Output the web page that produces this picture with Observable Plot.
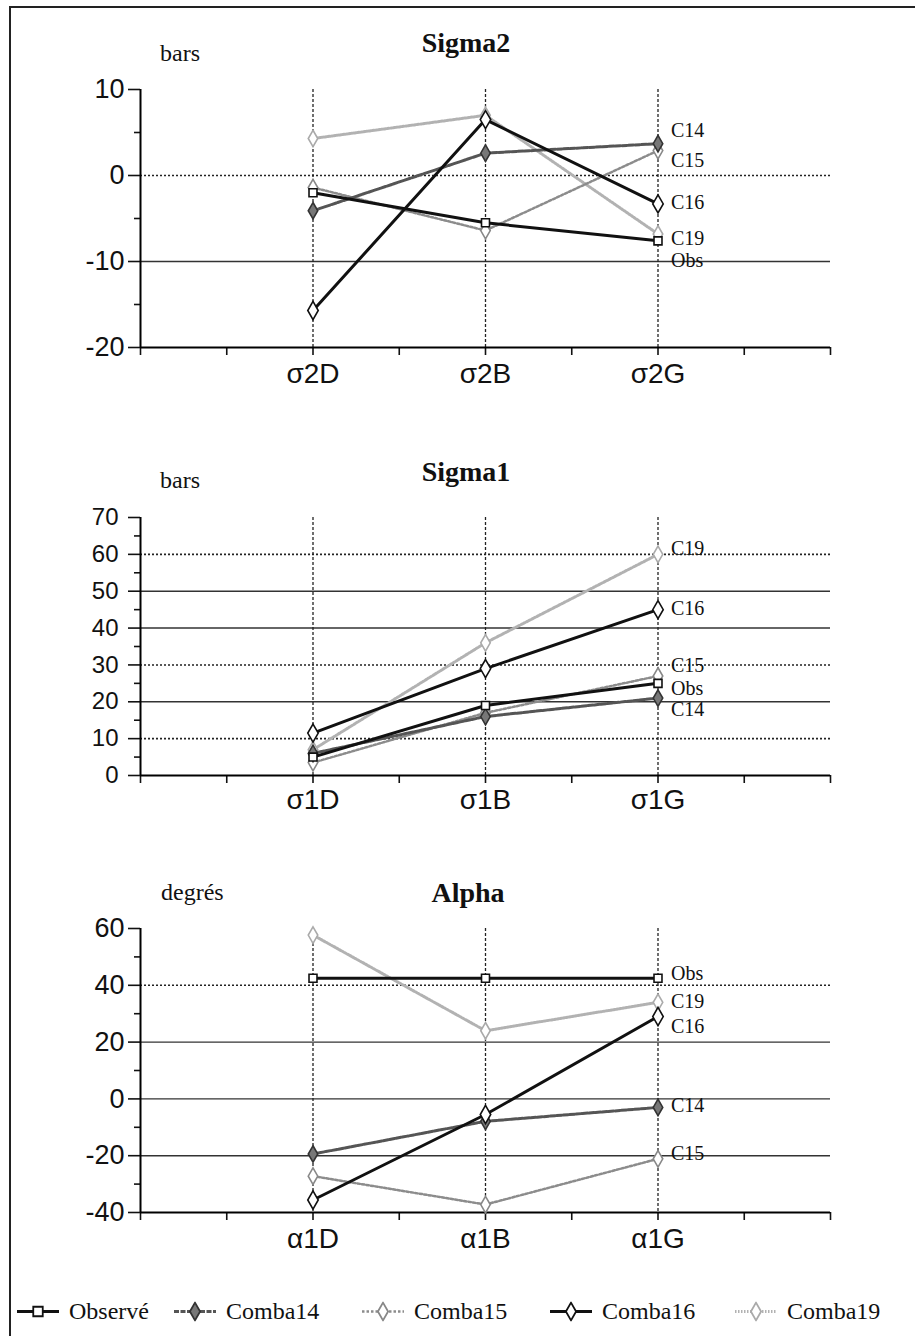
<!DOCTYPE html>
<html>
<head>
<meta charset="utf-8">
<script src="https://cdn.jsdelivr.net/npm/d3@7"></script>
<script src="https://cdn.jsdelivr.net/npm/@observablehq/plot@0.6"></script>
<style>
  html, body { margin: 0; padding: 0; background: #fff; }
  #page { position: relative; width: 915px; height: 1336px; overflow: hidden; background: #fff; }
  .abs { position: absolute; white-space: nowrap; color: #111; }
  .serif { font-family: "Liberation Serif", "Times New Roman", serif; }
  .title { font-weight: bold; font-size: 28px; transform: translate(-50%, -50%); }
  .unit { font-size: 24px; transform: translateY(-50%); }
  .chart { position: absolute; left: 0; }
  .legend-item { position: absolute; display: flex; align-items: center; font-family: "Liberation Serif", serif; font-size: 24px; color: #111; transform: translateY(-50%); }
</style>
</head>
<body>
<div id="page"></div>
<script>
// ---------- DATA ----------
const seriesNames = ["Observé", "Comba14", "Comba15", "Comba16", "Comba19"];
const seriesShort = ["Obs", "C14", "C15", "C16", "C19"];

const sigma2Categories = ["σ2D", "σ2B", "σ2G"];
const sigma1Categories = ["σ1D", "σ1B", "σ1G"];
const alphaCategories  = ["α1D", "α1B", "α1G"];

// values in seriesNames order, each [D, B, G]
const sigma2Values = [
  [-2.0, -5.5, -7.6],
  [-4.1, 2.6, 3.7],
  [-1.4, -6.4, 2.9],
  [-15.7, 6.5, -3.3],
  [4.3, 7.0, -6.8]
];
const sigma1Values = [
  [5, 19, 25],
  [6, 16, 21],
  [3.5, 17, 27],
  [11.5, 29, 45],
  [7, 36, 60]
];
const alphaValues = [
  [42.5, 42.5, 42.5],
  [-19.4, -7.9, -3],
  [-27.2, -37.2, -21.1],
  [-35.6, -5.5, 29],
  [57.7, 24, 34]
];

// value at which each end label sits (seriesShort order)
const sigma2LabelAt = [-9.9, 5.2, 1.7, -3.1, -7.3];
const sigma1LabelAt = [23.6, 17.9, 29.8, 45.3, 61.6];
const alphaLabelAt  = [44.2, -2.3, -19.2, 25.6, 34.2];

const sigma2Ticks = [-20, -10, 0, 10];
const sigma2Minor = [-15, -5, 5];
const sigma1Ticks = [0, 10, 20, 30, 40, 50, 60, 70];
const sigma1Minor = [5, 15, 25, 35, 45, 55, 65];
const alphaTicks  = [-40, -20, 0, 20, 40, 60];
const alphaMinor  = [-30, -10, 10, 30, 50];

const sigma2GridDotted = [0];
const sigma2GridSolid  = [-10];
const sigma1GridDotted = [10, 30, 60];
const sigma1GridSolid  = [20, 40, 50];
const alphaGridDotted  = [40];
const alphaGridSolid   = [20, 0, -20];

// ---------- STYLES ----------
const SANS = "Liberation Sans, Arial, sans-serif";
const SERIF = "Liberation Serif, Times New Roman, serif";
const styles = {
  "Observé": {stroke: "#111", width: 3, dash: null, symbol: "square", fill: "#fff", mstroke: "#111", r: 4.5},
  "Comba14": {stroke: "#555", width: 3, dash: "5,1.5", symbol: "diamond", fill: "#777", mstroke: "#333", r: 5},
  "Comba15": {stroke: "#8c8c8c", width: 2.5, dash: "2.5,2", symbol: "diamond", fill: "#fff", mstroke: "#888", r: 5},
  "Comba16": {stroke: "#111", width: 3, dash: null, symbol: "diamond", fill: "#fff", mstroke: "#111", r: 5.5},
  "Comba19": {stroke: "#b2b2b2", width: 3, dash: "1.5,1.5", symbol: "diamond", fill: "#fff", mstroke: "#aaa", r: 5}
};
const drawOrder = ["Comba19", "Comba15", "Comba14", "Observé", "Comba16"];

const page = document.getElementById("page");

function addText(cls, text, left, top) {
  const d = document.createElement("div");
  d.className = "abs serif " + cls;
  d.textContent = text;
  d.style.left = left + "px";
  d.style.top = top + "px";
  page.appendChild(d);
}

function makeChart(cfg) {
  const rows = [];
  cfg.values.forEach((vals, si) => vals.forEach((v, ci) => rows.push({series: seriesNames[si], x: 2 + 2 * ci, y: v})));
  const labels = seriesShort.map((s, i) => ({text: s, y: cfg.labelAt[i]}));
  const marks = [
    Plot.ruleY(cfg.gridSolid, {stroke: "#333", strokeWidth: 1.4}),
    Plot.ruleY(cfg.gridDotted, {stroke: "#222", strokeWidth: 1.6, strokeDasharray: "2,2"}),
    Plot.ruleX([2, 4, 6], {stroke: "#222", strokeWidth: 1.3, strokeDasharray: "3,2"}),
    Plot.axisX({ticks: d3.range(0, 9), tickSize: 8, tickFormat: () => "", strokeWidth: 1.6, label: null}),
    Plot.axisX({ticks: [2, 4, 6], tickSize: 0, tickPadding: cfg.xPad, tickFormat: d => cfg.cats[d / 2 - 1],
      fontSize: 28, fontFamily: SANS, label: null}),
    Plot.axisY({ticks: cfg.ticks, tickSize: 12, tickPadding: cfg.yPad, tickFormat: d => String(d),
      fontSize: cfg.yFont, fontFamily: SANS, strokeWidth: 1.6, label: null}),
    Plot.axisY({ticks: cfg.minor, tickSize: 6, tickFormat: () => "", strokeWidth: 1.6, label: null}),
    Plot.ruleX([0], {stroke: "#000", strokeWidth: 2}),
    Plot.ruleY([cfg.yDomain[0]], {stroke: "#000", strokeWidth: 2})
  ];
  for (const name of drawOrder) {
    const st = styles[name];
    const data = rows.filter(r => r.series === name);
    marks.push(Plot.line(data, {x: "x", y: "y", stroke: st.stroke, strokeWidth: st.width,
      strokeDasharray: st.dash || undefined}));
    marks.push(Plot.dot(data, {x: "x", y: "y", symbol: st.symbol, r: st.r, fill: st.fill,
      stroke: st.mstroke, strokeWidth: 1.6}));
  }
  marks.push(Plot.text(labels, {x: 6, y: "y", text: "text", dx: 13, textAnchor: "start",
    fontFamily: SERIF, fontSize: 20, fill: "#111"}));
  const svg = Plot.plot({
    width: 915,
    height: cfg.height,
    marginTop: cfg.marginTop,
    marginBottom: cfg.marginBottom,
    marginLeft: 140,
    marginRight: 85,
    x: {domain: [0, 8], axis: null},
    y: {domain: cfg.yDomain, axis: null},
    style: {background: "transparent", overflow: "visible", color: "#111"},
    marks
  });
  svg.classList.add("chart");
  svg.style.top = cfg.top + "px";
  page.appendChild(svg);
}

makeChart({cats: sigma2Categories, values: sigma2Values, labelAt: sigma2LabelAt, yDomain: [-20, 10],
  ticks: sigma2Ticks, minor: sigma2Minor, gridDotted: sigma2GridDotted, gridSolid: sigma2GridSolid,
  top: 0, marginTop: 89, marginBottom: 60, height: 407, yFont: 27, yPad: 4, xPad: 16});
makeChart({cats: sigma1Categories, values: sigma1Values, labelAt: sigma1LabelAt, yDomain: [0, 70],
  ticks: sigma1Ticks, minor: sigma1Minor, gridDotted: sigma1GridDotted, gridSolid: sigma1GridSolid,
  top: 417, marginTop: 100, marginBottom: 60, height: 418, yFont: 24, yPad: 10, xPad: 14});
makeChart({cats: alphaCategories, values: alphaValues, labelAt: alphaLabelAt, yDomain: [-40, 60],
  ticks: alphaTicks, minor: alphaMinor, gridDotted: alphaGridDotted, gridSolid: alphaGridSolid,
  top: 878, marginTop: 50, marginBottom: 60, height: 394, yFont: 27, yPad: 4, xPad: 16});

// titles & units
addText("title", "Sigma2", 466, 43);
addText("unit", "bars", 160, 53);
addText("title", "Sigma1", 466, 472);
addText("unit", "bars", 160, 480);
addText("title", "Alpha", 468, 893);
addText("unit", "degrés", 161, 892);

// frame
const frame = document.createElement("div");
frame.style.cssText = "position:absolute;left:9px;top:6px;width:930px;height:1400px;border-left:2px solid #222;border-top:2px solid #222;";
page.appendChild(frame);

// legend
const legendLefts = [15, 172, 360, 548, 733];
seriesNames.forEach((name, i) => {
  const st = styles[name];
  const item = document.createElement("div");
  item.className = "legend-item";
  item.style.left = legendLefts[i] + "px";
  item.style.top = "1311px";
  const svg = d3.create("svg").attr("width", 46).attr("height", 20).style("margin-right", "8px");
  svg.append("line").attr("x1", 2).attr("x2", 44).attr("y1", 10).attr("y2", 10)
    .attr("stroke", st.stroke).attr("stroke-width", st.width).attr("stroke-dasharray", st.dash);
  const sym = st.symbol === "square" ? d3.symbolSquare : d3.symbolDiamond;
  svg.append("path").attr("d", d3.symbol(sym, 90)()).attr("transform", "translate(23,10)")
    .attr("fill", st.fill).attr("stroke", st.mstroke).attr("stroke-width", 1.8);
  item.appendChild(svg.node());
  const t = document.createElement("span");
  t.textContent = name;
  item.appendChild(t);
  page.appendChild(item);
});
</script>
</body>
</html>
